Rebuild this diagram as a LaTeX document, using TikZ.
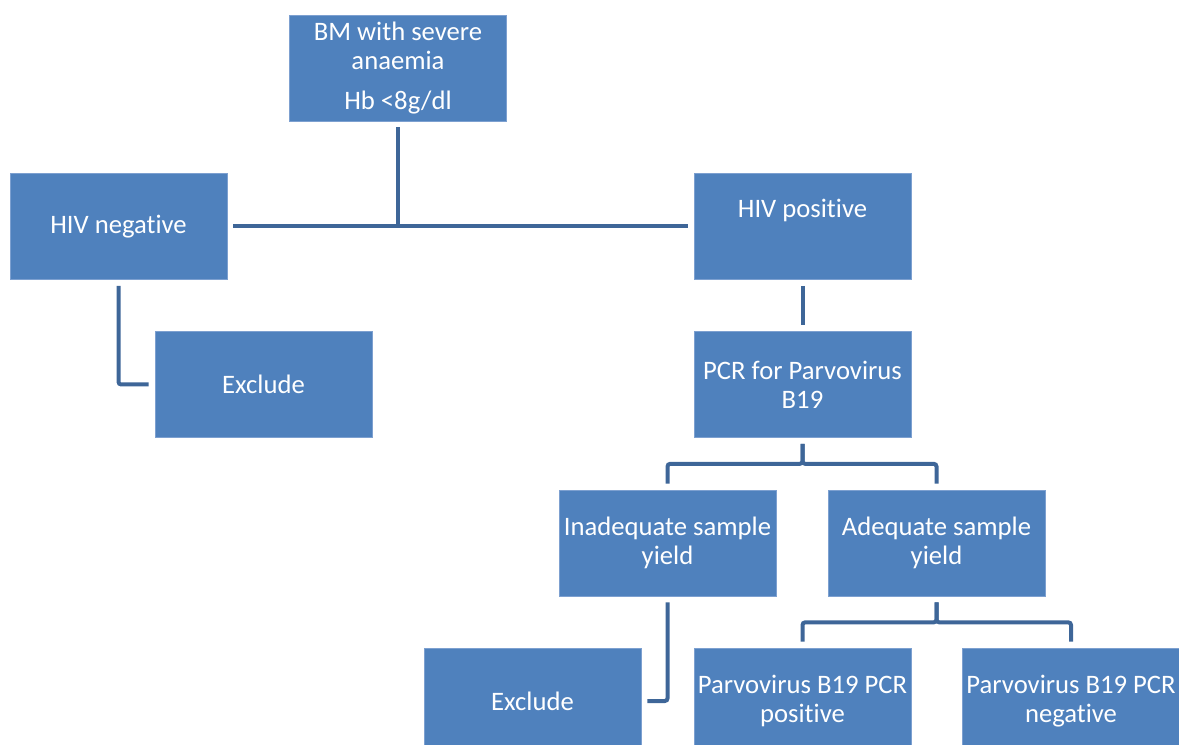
\documentclass[tikz,border=0pt]{standalone}
\usepackage{fontspec}
\setmainfont{Carlito}[Ligatures=NoCommon]
\usetikzlibrary{calc}
\definecolor{boxblue} {RGB}{ 79,129,189}
\definecolor{boxedge} {RGB}{125,160,208}
\definecolor{linkblue}{RGB}{ 62,102,152}
\tikzset{%
  box/.style = {
    fill = boxblue,
    draw = boxedge,
    line width = 0.5pt,
    text = white,
    align = center,
    minimum width = 162.75pt,
    minimum height = 79.5pt,
    inner sep = 2pt,
    font = \fontsize{20}{21.75}\selectfont,
  },
  link/.style = {
    draw = linkblue,
    line width = 3pt,
    rounded corners = 2pt,
    shorten < = 4.5pt,
    shorten > = 4.5pt,
  },
}

\begin{document}
\begin{tikzpicture}[x = 0.75pt, y = -0.75pt]
  \useasboundingbox (0,0) rectangle (1179,745);
  \clip (0,0) rectangle (1179,745);
  % boxes, placed at their pixel centres
  \node[box] (bm)     at (398,68)      {BM with severe\\anaemia\\[8pt]Hb <8g/dl};
  \node[box] (hivneg) at (118.5,226.5) {HIV negative};
  \node[box] (hivpos) at (802.5,226.5) {HIV positive\\[6pt]\mbox{}};
  \node[box] (excla)  at (263.5,384.5) {Exclude};
  \node[box] (pcr)    at (802.5,384.5) {PCR for Parvovirus\\B19};
  \node[box] (inad)   at (667.5,543)   {Inadequate sample\\yield};
  \node[box] (adeq)   at (936.5,543)   {Adequate sample\\yield};
  \node[box] (exclb)  at (532.5,701)   {Exclude};
  \node[box] (pvpos)  at (802.5,701)   {Parvovirus B19 PCR\\positive};
  \node[box] (pvneg)  at (1071,701)    {Parvovirus B19 PCR\\negative};
  % connectors
  \draw[link] (hivneg) -- (hivpos);
  \draw[link, shorten > = -1.5pt] (bm.south) -- (bm.south |- hivneg.east);
  \draw[link] (hivneg.south) |- (excla.west);
  \draw[link] (hivpos) -- (pcr);
  \draw[link] (pcr.south) -- ++(0,26) -| (inad.north);
  \draw[link] (pcr.south) -- ++(0,26) -| (adeq.north);
  \draw[link] (inad.south) |- (exclb.east);
  \draw[link] (adeq.south) -- ++(0,26) -| (pvpos.north);
  \draw[link] (adeq.south) -- ++(0,26) -| (pvneg.north);
\end{tikzpicture}
\end{document}
